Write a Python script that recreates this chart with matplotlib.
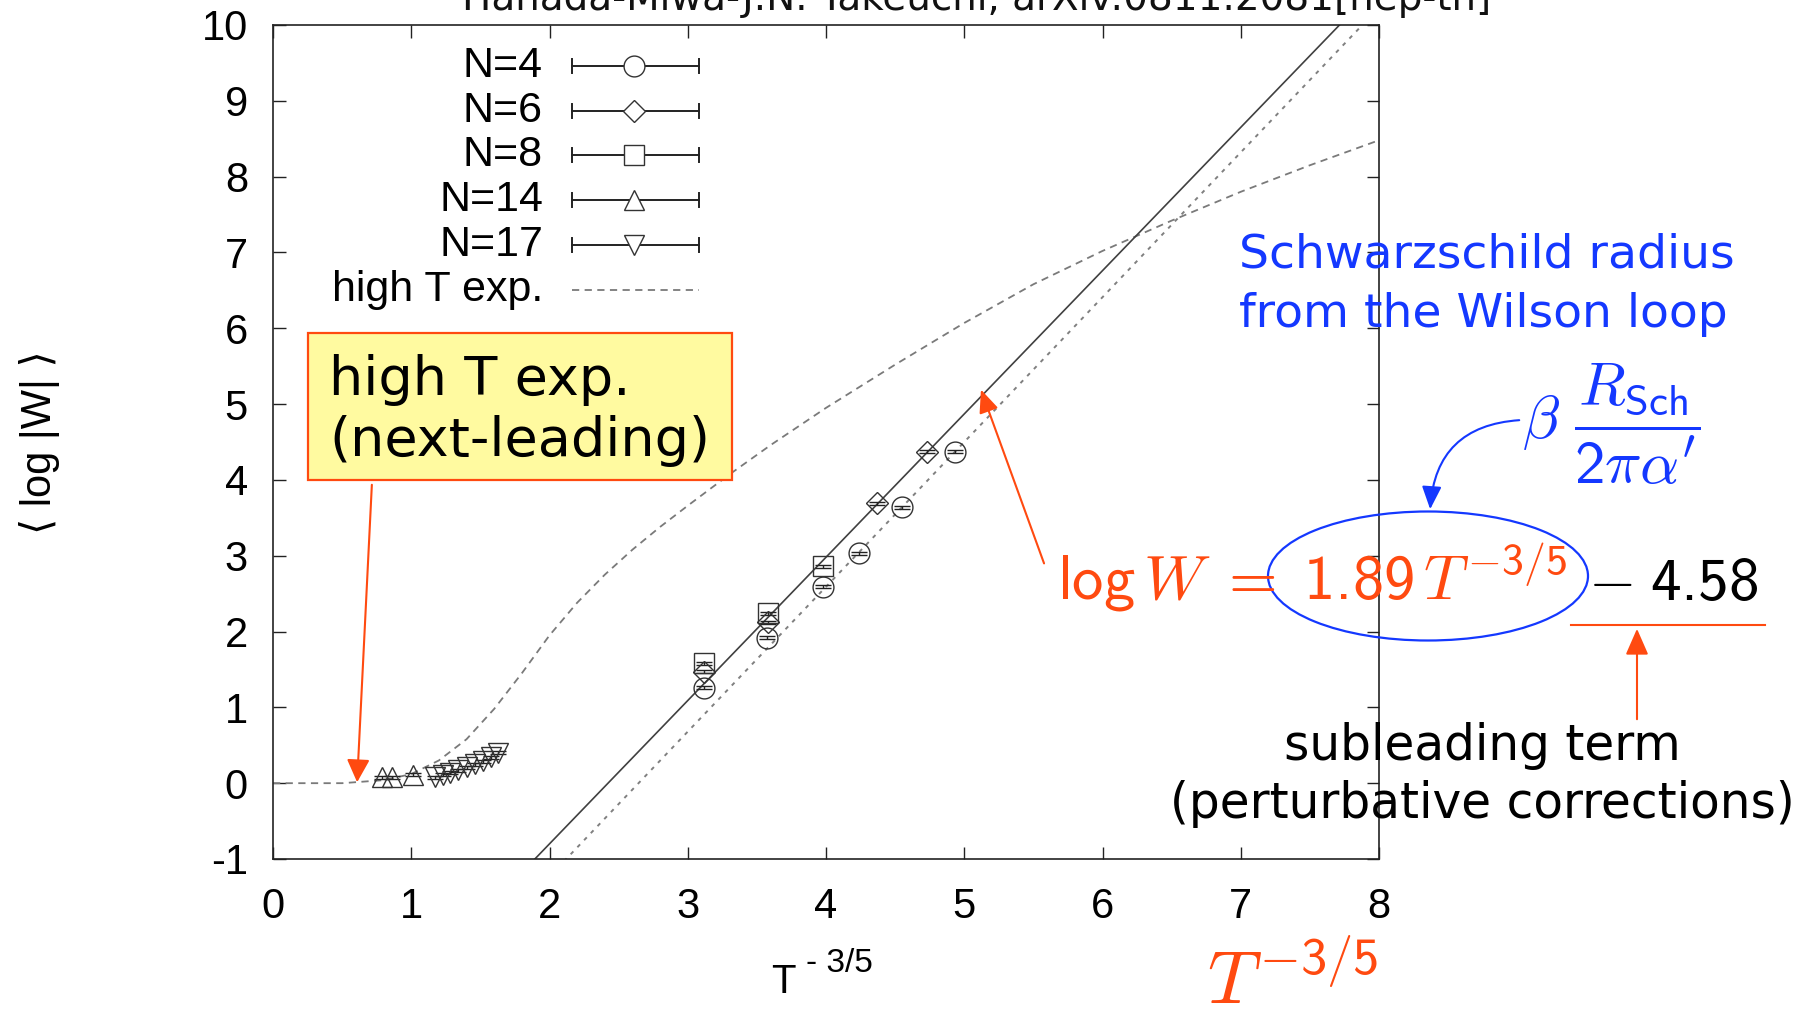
import numpy as np
import matplotlib
matplotlib.use("Agg")
import matplotlib.pyplot as plt
from matplotlib.patches import Ellipse, FancyArrowPatch, Rectangle

plt.rcParams['font.family'] = ['Liberation Sans', 'DejaVu Sans']
plt.rcParams['axes.unicode_minus'] = False
# Computer Modern math with sans upright digits
plt.rcParams['mathtext.fontset'] = 'custom'
plt.rcParams['mathtext.rm'] = 'cmss10'
plt.rcParams['mathtext.sf'] = 'cmss10'
plt.rcParams['mathtext.it'] = 'cmmi10'
plt.rcParams['mathtext.bf'] = 'cmb10'
plt.rcParams['mathtext.fallback'] = 'cm'

W, H = 1811, 1015

# Monte Carlo points, x = T^(-3/5), y = <log|W|>
n4_x = [3.12, 3.57, 3.98, 4.24, 4.55, 4.93]
n4_y = [1.26, 1.92, 2.59, 3.03, 3.64, 4.37]
n6_x = [3.12, 3.58, 4.37, 4.73]
n6_y = [1.47, 2.12, 3.69, 4.37]
n8_x = [3.12, 3.58, 3.98]
n8_y = [1.58, 2.24, 2.86]
n14_x = [0.79, 0.86, 1.01]
n14_y = [0.08, 0.08, 0.11]
n17_x = [1.17, 1.23, 1.28, 1.34, 1.40, 1.46, 1.52, 1.58, 1.63]
n17_y = [0.08, 0.11, 0.14, 0.17, 0.21, 0.25, 0.29, 0.34, 0.40]
err = 0.02

# high temperature expansion (next-leading order)
hte_x = [0.0, 0.5, 0.8, 1.0, 1.2, 1.4, 1.6, 1.8, 2.0, 2.2, 2.4, 2.6, 2.8, 3.0,
         3.3, 3.6, 4.0, 4.5, 5.0, 5.5, 6.0, 6.5, 7.0, 7.5, 8.0]
hte_y = [0.0, 0.0, 0.04, 0.12, 0.30, 0.58, 0.98, 1.45, 1.95, 2.38, 2.75, 3.08,
         3.38, 3.66, 4.07, 4.46, 4.95, 5.52, 6.07, 6.58, 7.02, 7.42, 7.80, 8.15, 8.48]

# linear fits a*x + b
fit_a, fit_b = 1.89, -4.58
fit4_a, fit4_b = 1.91, -5.05

xticks = list(range(0, 9))
yticks = list(range(-1, 11))

series = [
    ("N=4", "o", 15, n4_x, n4_y),
    ("N=6", "D", 11, n6_x, n6_y),
    ("N=8", "s", 14, n8_x, n8_y),
    ("N=14", "^", 14, n14_x, n14_y),
    ("N=17", "v", 14, n17_x, n17_y),
]


def fx(px):
    return px / W


def fy(py):
    return 1 - py / H


fig = plt.figure(figsize=(W / 100, H / 100), dpi=100)
ax = fig.add_axes([fx(273), fy(859), (1379 - 273) / W, (859 - 25) / H])

xs = np.linspace(0, 8, 200)
ax.plot(hte_x, hte_y, color='#7a7a7a', lw=1.3, dashes=(4, 3), zorder=2)
ax.plot(xs, fit_a * xs + fit_b, color='#404040', lw=1.2, zorder=2)
ax.plot(xs, fit4_a * xs + fit4_b, color='#808080', lw=1.4, dashes=(2, 3), zorder=2)

for label, mk, ms, x, y in series:
    ax.errorbar(x, y, yerr=err, fmt=mk, ms=ms, mfc='none', mec='#333333', mew=1.0,
                ecolor='#222222', elinewidth=1.0, capsize=6, capthick=1.6, zorder=3)

ax.set_xlim(0, 8)
ax.set_ylim(-1, 10)
ax.set_xticks(xticks)
ax.set_yticks(yticks)
ax.tick_params(direction='in', length=9, width=1.0, top=True, right=True,
               labelsize=30, color='#222222')
ax.tick_params(axis='y', pad=18)
ax.tick_params(axis='x', pad=20)
for sp in ax.spines.values():
    sp.set_linewidth(1.2)
    sp.set_color('#222222')

# key, gnuplot style: label on the left, sample on the right
key_y = [66, 111, 155, 200, 245]
for (label, mk, ms, _, _), py in zip(series, key_y):
    fig.text(fx(543), fy(py), label, ha='right', va='center', fontsize=31)
    ax.plot([fx(572), fx(699)], [fy(py), fy(py)], color='#222222', lw=1.4,
            transform=fig.transFigure, clip_on=False)
    for cx in (572, 699):
        ax.plot([fx(cx), fx(cx)], [fy(py - 7), fy(py + 7)], color='#222222', lw=1.4,
                transform=fig.transFigure, clip_on=False)
    ax.plot([fx(634)], [fy(py)], marker=mk, ms=ms, mfc='white', mec='#333333', mew=1.0,
            transform=fig.transFigure, clip_on=False)
fig.text(fx(543), fy(290), "high T exp.", ha='right', va='center', fontsize=31)
ax.plot([fx(572), fx(699)], [fy(290), fy(290)], color='#7a7a7a', lw=1.3, dashes=(4, 3),
        transform=fig.transFigure, clip_on=False)

# axis labels
fig.text(fx(771), fy(993), "T", fontsize=29, va='baseline', ha='left')
fig.text(fx(806), fy(972), "- 3/5", fontsize=24, va='baseline', ha='left')
fig.text(fx(40), fy(442), "\u27e8 log |W| \u27e9", rotation=90, fontsize=30,
         ha='center', va='center')

# title line, running off the top edge
fig.text(fx(462), fy(10), "Hanada-Miwa-J.N. Takeuchi, arXiv:0811.2081[hep-th]",
         fontsize=28, family='DejaVu Sans', va='baseline', ha='left', color='#111111')

orange = '#ff4a10'
blue = '#1438ff'

# high T box
fig.add_artist(Rectangle((fx(308), fy(480)), (732 - 308) / W, (480 - 333) / H,
                         transform=fig.transFigure, facecolor='#fffaa0',
                         edgecolor=orange, lw=1.6, zorder=5))
fig.text(fx(329), fy(395), "high T exp.", fontsize=39, family='DejaVu Sans',
         va='baseline', zorder=6)
fig.text(fx(329), fy(456), "(next-leading)", fontsize=39, family='DejaVu Sans',
         va='baseline', zorder=6)
fig.add_artist(FancyArrowPatch((fx(372), fy(482)), (fx(357), fy(785)),
                               transform=fig.transFigure,
                               arrowstyle='-|>,head_length=14,head_width=7',
                               color=orange, lw=1.5, zorder=6))

# blue annotation
for txt, py in (("Schwarzschild radius", 268), ("from the Wilson loop", 327)):
    fig.text(fx(1239), fy(py), txt, fontsize=34, family='DejaVu Sans', color=blue,
             va='baseline')
fig.text(fx(1522), fy(424), r"$\beta\ \dfrac{R_{\mathsf{Sch}}}{2\pi\alpha'}$",
         fontsize=44, color=blue, va='center', ha='left')
fig.add_artist(FancyArrowPatch((fx(1522), fy(420)), (fx(1430), fy(512)),
                               transform=fig.transFigure,
                               connectionstyle='arc3,rad=0.45',
                               arrowstyle='-|>,head_length=14,head_width=6',
                               color=blue, lw=1.5))

# fit formula
fig.text(fx(1057), fy(600), r"$\mathrm{log}\,W\;=\;1.89\,T^{-\mathrm{3/5}}$",
         fontsize=45, color=orange, va='baseline', ha='left')
fig.text(fx(1588), fy(600), r"$-\;4.58$", fontsize=44, color='black',
         va='baseline', ha='left')
fig.add_artist(Ellipse((fx(1428), fy(576)), 320 / W, 129 / H, transform=fig.transFigure,
                       fill=False, edgecolor=blue, lw=1.6))
fig.add_artist(FancyArrowPatch((fx(1045), fy(566)), (fx(980), fy(387)),
                               transform=fig.transFigure,
                               arrowstyle='-|>,head_length=14,head_width=6',
                               color=orange, lw=1.5))

# subleading term
ax.plot([fx(1571), fx(1765)], [fy(625), fy(625)], color=orange, lw=1.5,
        transform=fig.transFigure, clip_on=False)
fig.add_artist(FancyArrowPatch((fx(1637), fy(722)), (fx(1637), fy(626)),
                               transform=fig.transFigure,
                               arrowstyle='-|>,head_length=16,head_width=7',
                               color=orange, lw=1.5))
fig.text(fx(1482), fy(760), "subleading term", fontsize=35, family='DejaVu Sans',
         ha='center', va='baseline')
fig.text(fx(1482), fy(818), "(perturbative corrections)", fontsize=35,
         family='DejaVu Sans', ha='center', va='baseline')

fig.text(fx(1207), fy(1004), r"$T^{-\mathrm{3/5}}$", fontsize=54, color=orange,
         va='baseline', ha='left')

fig.savefig("out.png", dpi=100)
